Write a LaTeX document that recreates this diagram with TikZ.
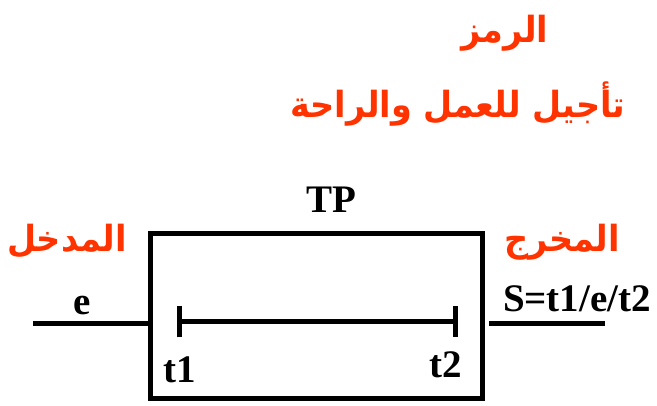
\documentclass[tikz,border=0pt]{standalone}
\usepackage{fontspec}
\setmainfont{Liberation Serif}
\newfontfamily\arabicfont[Script=Arabic,FakeStretch=0.93]{DejaVu Sans}
\TeXXeTstate=1
\usetikzlibrary{arrows.meta}
\definecolor{titlered}{RGB}{255,51,0}

\tikzset{
  wire/.style={line width=5pt},
  lbl/.style={font=\fontsize{39}{39}\selectfont\bfseries, inner sep=0pt, anchor=base},
  arlbl/.style={font=\arabicfont\fontsize{36}{36}\selectfont\bfseries, text=titlered, inner sep=0pt, anchor=base},
}

\begin{document}
\begin{tikzpicture}[x=1pt,y=-1pt]
  \useasboundingbox (0,0) rectangle (657,406);
  % titles
  \node[arlbl] (sym) at (505,43) {\beginR الرمز\endR};
  \node[arlbl] (name) at (458,118) {\beginR تأجيل للعمل والراحة\endR};
  % the TP block
  \node[wire, draw, minimum width=332pt, minimum height=165pt, inner sep=0pt] (tp) at (316,316.5) {};
  \node[lbl] (tplbl) at (331,213) {TP};
  \node[arlbl] (inlbl) at (67,252) {\beginR المدخل\endR};
  \node[arlbl] (outlbl) at (562,252) {\beginR المخرج\endR};
  % input and output
  \coordinate (ein) at (33,324);
  \coordinate (sout) at (489,324);
  \coordinate (send) at (605,324);
  \draw[wire] (ein) -- (ein -| tp.west);
  \draw[wire] (sout) -- (send);
  \node[lbl] (e) at (82,315) {e};
  \node[lbl] (s) at (577,312) {S=t1/e/t2};
  % delay interval
  \coordinate (start) at (177,322);
  \coordinate (stop) at (458,322);
  \draw[wire, {Bar[width=31pt]}-{Bar[width=31pt]}] (start) -- (stop);
  \node[lbl] (t1) at (180,383) {t1};
  \node[lbl] (t2) at (446,378) {t2};
\end{tikzpicture}
\end{document}
